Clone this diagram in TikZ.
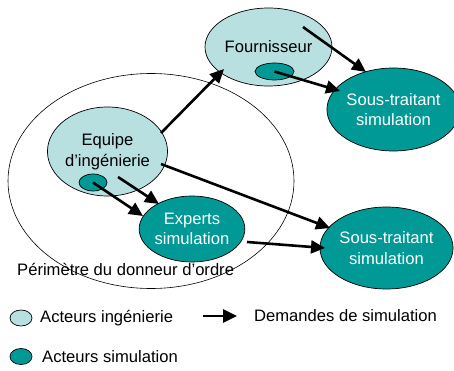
\documentclass[tikz,border=0pt]{standalone}
\usepackage{fontspec}
\setmainfont{Liberation Sans}
\usetikzlibrary{shapes.geometric,arrows.meta}
\definecolor{ingcol}{RGB}{184,224,224}
\definecolor{simcol}{RGB}{0,153,150}
\begin{document}
\begin{tikzpicture}[x=1pt,y=-1pt,
  every node/.style={font=\fontsize{16.6}{20.5}\selectfont},
  ing/.style={ellipse,draw=black,line width=0.7pt,fill=ingcol,inner sep=0pt,align=center,text=black},
  sim/.style={ellipse,draw=black,line width=0.7pt,fill=simcol,inner sep=0pt,align=center,text=white},
  req/.style={line width=2.6pt,-{Triangle[length=14pt,width=13pt]}},
  lbl/.style={anchor=west,inner sep=0pt}]
\useasboundingbox (0,0) rectangle (454,371);
% actors
\node[ing,minimum width=127pt,minimum height=78pt] (four) at (268.5,47) {Fournisseur};
\node[sim,minimum width=39pt,minimum height=17pt] (fsim) at (274.5,71.5) {};
\node[sim,minimum width=121pt,minimum height=83pt] (st1) at (393.5,109.5) {Sous-traitant\\simulation};
\node[ing,minimum width=111pt,minimum height=89pt] (equipe) at (107.5,151.5) {Equipe\\d’ingénierie};
\node[sim,minimum width=28pt,minimum height=17pt] (esim) at (93,182.5) {};
\node[sim,minimum width=104pt,minimum height=66pt] (experts) at (192,229) {Experts\\simulation};
\node[sim,minimum width=121pt,minimum height=82pt] (st2) at (386.5,248) {Sous-traitant\\simulation};
% perimeter
\node[ellipse,draw=black,line width=0.6pt,minimum width=286pt,minimum height=215pt,inner sep=0pt] (perim) at (151,181) {};
\node[lbl] (perimlbl) at (17,269) {Périmètre du donneur d'ordre};
% requests
\draw[req] ([shift={(53.5,-18.5)}]equipe.center) -- ([shift={(-44.5,22)}]four.center);
\draw[req] ([shift={(34.5,-20)}]four.center) -- ([shift={(-27.5,-37.5)}]st1.center);
\draw[req] (fsim.center) -- ([shift={(-53.5,-18.5)}]st1.center);
\draw[req] ([shift={(53.5,12.5)}]equipe.center) -- ([shift={(-56.5,-20)}]st2.center);
\draw[req] ([shift={(10.5,25.5)}]equipe.center) -- ([shift={(-33,-25)}]experts.center);
\draw[req] (esim.center) -- ([shift={(-49,-13)}]experts.center);
\draw[req] ([shift={(55,13)}]experts.center) -- ([shift={(-61.5,0)}]st2.center);
% legend
\node[ing,minimum width=22pt,minimum height=16pt] (legIng) at (21,318) {};
\node[lbl] (legIngTxt) at (40,318) {Acteurs ingénierie};
\node[sim,minimum width=22pt,minimum height=16pt] (legSim) at (21,356.5) {};
\node[lbl] (legSimTxt) at (42,356.5) {Acteurs simulation};
\coordinate (legA) at (203,316);
\coordinate (legB) at (237,316);
\draw[req] (legA) -- (legB);
\node[lbl] (legReqTxt) at (254,316) {Demandes de simulation};
\end{tikzpicture}
\end{document}
